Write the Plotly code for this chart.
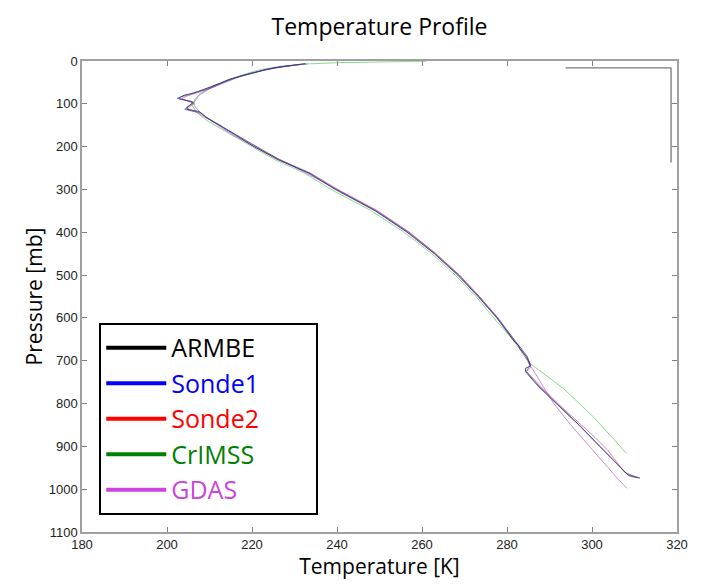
import plotly.graph_objects as go

# ---------------- data ----------------
P_armbe = [6, 10, 15, 22, 30, 42, 52, 60, 68, 75, 80, 85, 88, 92, 96, 100, 106, 112, 115, 118,
           124, 132, 145, 160, 177, 188, 200, 230, 262, 300, 350, 400, 450, 500, 550, 600, 640,
           655, 665, 672, 690, 705, 712, 718, 726, 740, 760, 800, 850, 900, 940, 958, 968, 972, 974]
T_armbe = [232.5, 229.0, 225.8, 222.5, 219.3, 215.0, 212.5, 210.5, 208.5, 206.3, 204.0, 203.0,
           202.8, 204.5, 206.2, 205.8, 205.0, 204.6, 206.0, 207.5, 208.3, 209.2, 211.5, 214.0,
           216.8, 218.5, 220.5, 226.0, 233.4, 239.6, 249.0, 256.5, 262.9, 268.4, 273.2, 277.6,
           280.6, 281.7, 282.8, 283.0, 284.6, 285.3, 285.6, 284.3, 284.4, 285.6, 287.4, 291.6,
           296.9, 301.8, 305.8, 307.4, 308.6, 310.0, 311.3]

P_sonde1 = [7, 12, 18, 26, 36, 48, 58, 66, 72, 78, 84, 87, 90, 95, 100, 104, 110, 113, 117,
            122, 130, 142, 160, 180, 200, 230, 262, 300, 350, 400, 450, 500, 550, 600, 650,
            668, 690, 710, 725, 760, 800, 850, 900, 940, 965, 973]
T_sonde1 = [233.0, 227.8, 224.0, 220.8, 217.0, 213.8, 211.2, 209.6, 207.0, 205.0, 203.2, 202.4,
            203.6, 205.8, 206.0, 205.2, 204.4, 204.2, 206.2, 208.2, 209.0, 211.0, 214.2, 217.5,
            221.0, 226.3, 233.6, 239.8, 249.2, 256.7, 263.0, 268.6, 273.3, 277.7, 281.6, 283.0,
            284.8, 285.5, 284.5, 287.6, 291.8, 297.0, 301.9, 305.9, 308.2, 311.0]

P_sonde2 = [8, 14, 20, 30, 45, 60, 72, 82, 88, 94, 100, 108, 114, 120, 135, 155, 180, 200, 230,
            262, 300, 350, 400, 450, 500, 550, 600, 650, 670, 700, 715, 725, 760, 800, 850, 880,
            910, 940, 960, 972]
T_sonde2 = [231.5, 226.5, 223.5, 219.0, 214.2, 210.8, 207.8, 204.6, 203.4, 205.0, 206.3, 205.2,
            204.8, 207.0, 209.8, 213.2, 217.6, 221.2, 226.4, 233.8, 240.2, 249.6, 257.0, 263.2,
            268.8, 273.5, 277.9, 281.5, 283.2, 285.0, 285.5, 284.6, 287.9, 292.0, 297.6, 300.8,
            303.8, 306.2, 307.6, 310.5]

P_crimss = [0.5, 2, 4, 7, 12, 20, 30, 45, 60, 75, 90, 105, 120, 140, 160, 180, 200, 230, 262,
            300, 350, 400, 450, 500, 550, 605, 650, 706, 765, 831, 880, 917]
T_crimss = [261.0, 250.0, 240.0, 232.5, 227.0, 222.0, 218.5, 214.0, 210.5, 208.0, 206.5, 206.0,
            207.0, 209.5, 213.0, 216.5, 220.0, 225.3, 232.4, 238.6, 248.1, 255.8, 262.3, 267.8,
            272.7, 277.3, 281.3, 285.4, 293.3, 300.3, 304.8, 308.2]

P_gdas = [10, 20, 35, 50, 65, 80, 95, 105, 120, 140, 170, 200, 250, 300, 350, 400, 450, 500,
          550, 600, 650, 700, 750, 800, 850, 900, 950, 975, 998]
T_gdas = [230.0, 223.5, 217.5, 213.5, 210.0, 207.5, 206.5, 206.5, 207.8, 210.5, 215.0, 220.5,
          230.5, 240.0, 249.3, 257.0, 263.3, 268.8, 273.5, 277.8, 281.6, 284.8, 288.0, 291.0,
          295.0, 299.5, 303.8, 306.0, 308.2]

series_names = ["ARMBE", "Sonde1", "Sonde2", "CrIMSS", "GDAS"]
legend_colors = ["#000000", "#0000ff", "#ff0000", "#008000", "#cc44dd"]
line_colors = ["rgba(30,30,40,0.85)", "rgba(50,60,210,0.7)", "rgba(200,40,70,0.6)",
               "rgba(120,210,120,0.95)", "rgba(185,110,215,0.85)"]
series_T = [T_armbe, T_sonde1, T_sonde2, T_crimss, T_gdas]
series_P = [P_armbe, P_sonde1, P_sonde2, P_crimss, P_gdas]

x_ticks = [180, 200, 220, 240, 260, 280, 300, 320]
y_ticks = [0, 100, 200, 300, 400, 500, 600, 700, 800, 900, 1000, 1100]

# ---------------- figure ----------------
fig = go.Figure()

draw_order = [3, 4, 2, 0, 1]
for i in draw_order:
    fig.add_trace(go.Scatter(x=series_T[i], y=series_P[i], mode="lines",
                             line=dict(color=line_colors[i], width=0.9),
                             showlegend=False, hoverinfo="skip"))

pad = "\u00a0" * 8
for name, col in zip(series_names, legend_colors):
    fig.add_trace(go.Scatter(x=[None], y=[None], mode="lines",
                             line=dict(color=col, width=4),
                             name=f'<span style="color:{col}">{name}</span>' + pad))

# stray axis fragment in the top-right corner of the original picture
fig.add_shape(type="line", xref="x", yref="y", x0=293.8, x1=318.6, y0=16, y1=16,
              line=dict(color="#777777", width=1.3))
fig.add_shape(type="line", xref="x", yref="y", x0=318.6, x1=318.6, y0=16, y1=237,
              line=dict(color="#777777", width=1.3))

axis_common = dict(showgrid=False, zeroline=False, showline=True, linecolor="#a0a0a0",
                   linewidth=1.5, mirror="allticks", ticks="inside", ticklen=5,
                   tickcolor="#808080",
                   tickfont=dict(family="Liberation Sans, Arial", size=13, color="#222222"))

fig.update_xaxes(range=[180, 320], tickvals=x_ticks, ticktext=[str(v) for v in x_ticks],
                 title=dict(text="Temperature [K]", font=dict(family="Open Sans", size=21,
                                                              color="#000000"), standoff=6),
                 **axis_common)
fig.update_yaxes(range=[1100, 0], tickvals=y_ticks, ticktext=[str(v) for v in y_ticks],
                 title=dict(text="Pressure [mb]", font=dict(family="Open Sans", size=21,
                                                            color="#000000"), standoff=0),
                 **axis_common)

fig.update_layout(
    width=702, height=585,
    margin=dict(l=82, r=25, t=61, b=53),
    paper_bgcolor="white", plot_bgcolor="white",
    title=dict(text="Temperature Profile", x=0.5, xref="paper", xanchor="center",
               y=1 - 27 / 585, yanchor="middle",
               font=dict(family="Open Sans", size=23, color="#000000")),
    legend=dict(x=0.029, y=0.444, xanchor="left", yanchor="top",
                bgcolor="white", bordercolor="#000000", borderwidth=2,
                font=dict(family="Open Sans", size=25), itemwidth=60,
                tracegroupgap=0),
)

fig.write_html("out.html")
